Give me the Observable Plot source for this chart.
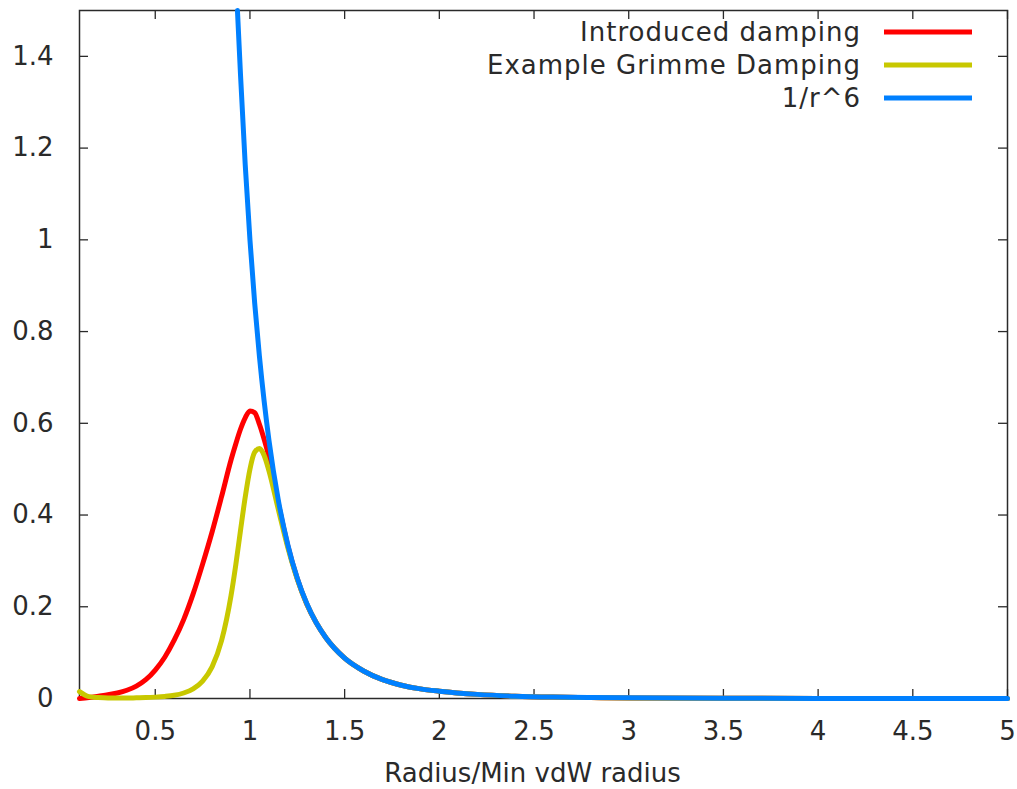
<!DOCTYPE html>
<html>
<head>
<meta charset="utf-8">
<script src="https://cdn.jsdelivr.net/npm/d3@7"></script>
<script src="https://cdn.jsdelivr.net/npm/@observablehq/plot@0.6"></script>
<style>
  body { margin: 0; background: #ffffff; }
  #chart svg { display: block; }
</style>
</head>
<body>
<div id="chart"></div>
<script>
// ---- data ----
const seriesNames = ["Introduced damping", "Example Grimme Damping", "1/r^6"];
const seriesColors = ["#ff0000", "#c8c800", "#0080ff"];

const radiusDamped = [0.1, 0.15, 0.2, 0.25, 0.3, 0.35, 0.4, 0.45, 0.5, 0.55, 0.6, 0.65, 0.7, 0.75, 0.8, 0.85,
  0.9, 0.925, 0.95, 0.975, 1.0, 1.025, 1.05, 1.075, 1.1, 1.15, 1.2, 1.25, 1.3, 1.35, 1.4, 1.5, 1.6, 1.7, 1.8,
  1.9, 2.0, 2.2, 2.4, 2.6, 2.8, 3.0, 3.5, 4.0, 4.5, 5.0];
const introducedDamping = [0.000, 0.002, 0.005, 0.008, 0.012, 0.018, 0.027, 0.041, 0.062, 0.090, 0.127, 0.172,
  0.228, 0.293, 0.363, 0.440, 0.520, 0.555, 0.587, 0.612, 0.627, 0.623, 0.598, 0.565, 0.527, 0.425, 0.333, 0.261,
  0.206, 0.165, 0.133, 0.088, 0.060, 0.041, 0.029, 0.021, 0.016, 0.009, 0.005, 0.003, 0.002, 0.001, 0.0005,
  0.0002, 0.0001, 0.0001];
const grimmeDamping = [0.015, 0.004, 0.002, 0.001, 0.001, 0.001, 0.0015, 0.002, 0.003, 0.0045, 0.007, 0.012,
  0.021, 0.038, 0.069, 0.126, 0.224, 0.291, 0.366, 0.439, 0.500, 0.537, 0.545, 0.530, 0.497, 0.412, 0.329, 0.260,
  0.206, 0.165, 0.133, 0.088, 0.060, 0.041, 0.029, 0.021, 0.016, 0.009, 0.005, 0.003, 0.002, 0.001, 0.0005,
  0.0002, 0.0001, 0.0001];

const radiusInverse = [0.934, 0.95, 0.975, 1.0, 1.025, 1.05, 1.075, 1.1, 1.15, 1.2, 1.25, 1.3, 1.35, 1.4, 1.5,
  1.6, 1.7, 1.8, 1.9, 2.0, 2.2, 2.4, 2.6, 2.8, 3.0, 3.5, 4.0, 4.5, 5.0];
const inverseSixth = [1.5, 1.361, 1.164, 1.0, 0.862, 0.746, 0.648, 0.564, 0.432, 0.335, 0.262, 0.207, 0.165,
  0.133, 0.088, 0.060, 0.041, 0.029, 0.021, 0.016, 0.009, 0.005, 0.003, 0.002, 0.0014, 0.0005, 0.0002, 0.0001,
  0.0001];

const xTicks = [0.5, 1, 1.5, 2, 2.5, 3, 3.5, 4, 4.5, 5];
const xTickLabels = ["0.5", "1", "1.5", "2", "2.5", "3", "3.5", "4", "4.5", "5"];
const yTicks = [0, 0.2, 0.4, 0.6, 0.8, 1, 1.2, 1.4];
const yTickLabels = ["0", "0.2", "0.4", "0.6", "0.8", "1", "1.2", "1.4"];
const xLabel = "Radius/Min vdW radius";

// ---- build tables ----
const redData = radiusDamped.map((r, i) => ({r, v: introducedDamping[i]}));
const yellowData = radiusDamped.map((r, i) => ({r, v: grimmeDamping[i]}));
const blueData = radiusInverse.map((r, i) => ({r, v: inverseSixth[i]}));
const xTickData = xTicks.map((t, i) => ({t, label: xTickLabels[i]}));
const yTickData = yTicks.map((t, i) => ({t, label: yTickLabels[i]}));

// ---- layout ----
const W = 1017, H = 789;
const mt = 10, mr = 10, mb = 91, ml = 79;
const frameW = W - ml - mr, frameH = H - mt - mb;
const tickLen = 9;
const ink = "#2a2a2a";
const font = "DejaVu Sans";
const fs = 26;
const lw = 5;

function legend(index, scales, values, dims) {
  const g = d3.create("svg:g")
    .attr("font-family", font)
    .attr("font-size", fs)
    .attr("fill", ink);
  const right = dims.width - dims.marginRight;
  seriesNames.forEach((name, i) => {
    const y = dims.marginTop + 22 + i * 33;
    g.append("text")
      .attr("x", right - 146)
      .attr("y", y)
      .attr("dy", "0.35em")
      .attr("text-anchor", "end")
      .attr("letter-spacing", "1px")
      .text(name);
    g.append("line")
      .attr("x1", right - 123)
      .attr("x2", right - 35)
      .attr("y1", y)
      .attr("y2", y)
      .attr("stroke", seriesColors[i])
      .attr("stroke-width", lw);
  });
  return g.node();
}

const chart = Plot.plot({
  width: W,
  height: H,
  marginTop: mt,
  marginRight: mr,
  marginBottom: mb,
  marginLeft: ml,
  style: {fontFamily: font, fontSize: fs + "px", background: "#ffffff", color: ink},
  x: {domain: [0.1, 5], axis: null},
  y: {domain: [0, 1.5], axis: null},
  marks: [
    // inward ticks on all four sides (gnuplot style)
    Plot.tickX(xTicks, {x: d => d, stroke: ink, strokeWidth: 1.3, insetTop: frameH - tickLen}),
    Plot.tickX(xTicks, {x: d => d, stroke: ink, strokeWidth: 1.3, insetBottom: frameH - tickLen}),
    Plot.tickY(yTicks, {y: d => d, stroke: ink, strokeWidth: 1.3, insetRight: frameW - tickLen}),
    Plot.tickY(yTicks, {y: d => d, stroke: ink, strokeWidth: 1.3, insetLeft: frameW - tickLen}),
    Plot.frame({stroke: ink, strokeWidth: 1.5}),
    // tick labels
    Plot.text(xTickData, {x: "t", text: "label", frameAnchor: "bottom", dy: 33, lineAnchor: "middle",
      fontSize: fs, fill: ink}),
    Plot.text(yTickData, {y: "t", text: "label", frameAnchor: "left", dx: -26, textAnchor: "end",
      fontSize: fs, fill: ink}),
    Plot.text([xLabel], {text: d => d, frameAnchor: "bottom", dy: 75, dx: -11, lineAnchor: "middle",
      fontSize: fs, fill: ink, letterSpacing: "0.6px"}),
    // curves
    Plot.line(redData, {x: "r", y: "v", stroke: seriesColors[0], strokeWidth: lw, curve: "monotone-x"}),
    Plot.line(yellowData, {x: "r", y: "v", stroke: seriesColors[1], strokeWidth: lw, curve: "monotone-x"}),
    Plot.line(blueData, {x: "r", y: "v", stroke: seriesColors[2], strokeWidth: lw, curve: "monotone-x"}),
    legend
  ]
});
document.getElementById("chart").appendChild(chart);
</script>
</body>
</html>
